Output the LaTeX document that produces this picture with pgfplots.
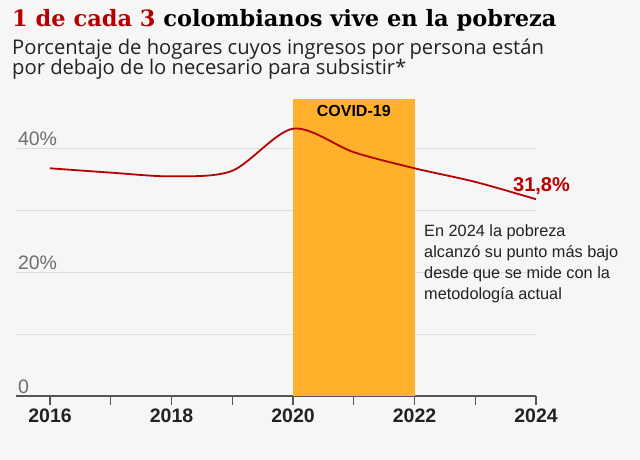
\documentclass[border=0pt]{standalone}
\usepackage{fontspec}
\setmainfont{Liberation Sans}
\newfontfamily\titlefont{DejaVu Serif}
\newfontfamily\subfont{Open Sans}
\usepackage{pgfplots}
\pgfplotsset{compat=1.18}
\definecolor{bg}{HTML}{F6F6F6}
\definecolor{bbcred}{HTML}{B80000}
\definecolor{covid}{HTML}{FFB12B}
\definecolor{gridc}{HTML}{DCDCDC}
\definecolor{axc}{HTML}{555555}
\definecolor{lab}{HTML}{6E6E6E}
\definecolor{txt}{HTML}{222222}
\begin{document}
\begin{tikzpicture}[x=1bp,y=1bp]
\fill[bg] (0,0) rectangle (640,460);
\node[anchor=base west, inner sep=0] at (12,433.3) {\titlefont\bfseries\fontsize{22.5bp}{27bp}\selectfont\textcolor{bbcred}{1 de cada 3} colombianos vive en la pobreza};
\node[anchor=base west, inner sep=0, text=txt] at (12,405.7) {\subfont\fontsize{20.2bp}{23bp}\selectfont Porcentaje de hogares cuyos ingresos por persona están};
\node[anchor=base west, inner sep=0, text=txt] at (12,385.3) {\subfont\fontsize{20.2bp}{23bp}\selectfont por debajo de lo necesario para subsistir*};
\begin{axis}[
  at={(16bp,64bp)}, anchor=south west, scale only axis,
  width=520bp, height=297bp,
  xmin=2015.44, xmax=2024, ymin=0, ymax=48,
  axis x line*=bottom, axis y line*=left,
  y axis line style={draw=none},
  x axis line style={axc, line width=1.5bp},
  xtick={2016,2017,2018,2019,2020,2021,2022,2023,2024},
  xticklabels={2016,,2018,,2020,,2022,,2024},
  tick align=outside, major tick length=9bp,
  x tick style={axc, line width=1.2bp},
  xticklabel style={font=\bfseries\fontsize{19.5bp}{22bp}\selectfont, text=txt},
  ytick={0,10,20,30,40}, yticklabels={},
  y tick style={draw=none},
  ymajorgrids, grid style={gridc, line width=1bp},
  clip=false,
]
\fill[covid] (axis cs:2020,0) rectangle (axis cs:2022,48);
\node[font=\bfseries\fontsize{16bp}{19bp}\selectfont, text=black] at (axis cs:2021,46.06) {COVID-19};
\addplot[bbcred, line width=1.8bp, smooth, tension=0.5] coordinates {
  (2016,36.8) (2017,36.1) (2018,35.5) (2019,36.4) (2020,43.2)
  (2021,39.4) (2022,36.8) (2023,34.6) (2024,31.8)
};
\node[anchor=base west, inner sep=0, text=lab, font=\fontsize{19.5bp}{22bp}\selectfont] at (axis cs:2015.47,40.48) {40\%};
\node[anchor=base west, inner sep=0, text=lab, font=\fontsize{19.5bp}{22bp}\selectfont] at (axis cs:2015.47,20.48) {20\%};
\node[anchor=base west, inner sep=0, text=lab, font=\fontsize{19.5bp}{22bp}\selectfont] at (axis cs:2015.47,0.48) {0};
\node[anchor=base west, inner sep=0, text=bbcred, font=\bfseries\fontsize{20bp}{22bp}\selectfont] at (axis cs:2023.62,33.02) {31,8\%};
\end{axis}
\begin{scope}[every node/.style={anchor=base west, inner sep=0, text=txt, font=\fontsize{16.3bp}{19bp}\selectfont}]
\node at (424,223.3) {En 2024 la pobreza};
\node at (424,202.3) {alcanzó su punto más bajo};
\node at (424,181.3) {desde que se mide con la};
\node at (424,160.3) {metodología actual};
\end{scope}
\end{tikzpicture}
\end{document}
